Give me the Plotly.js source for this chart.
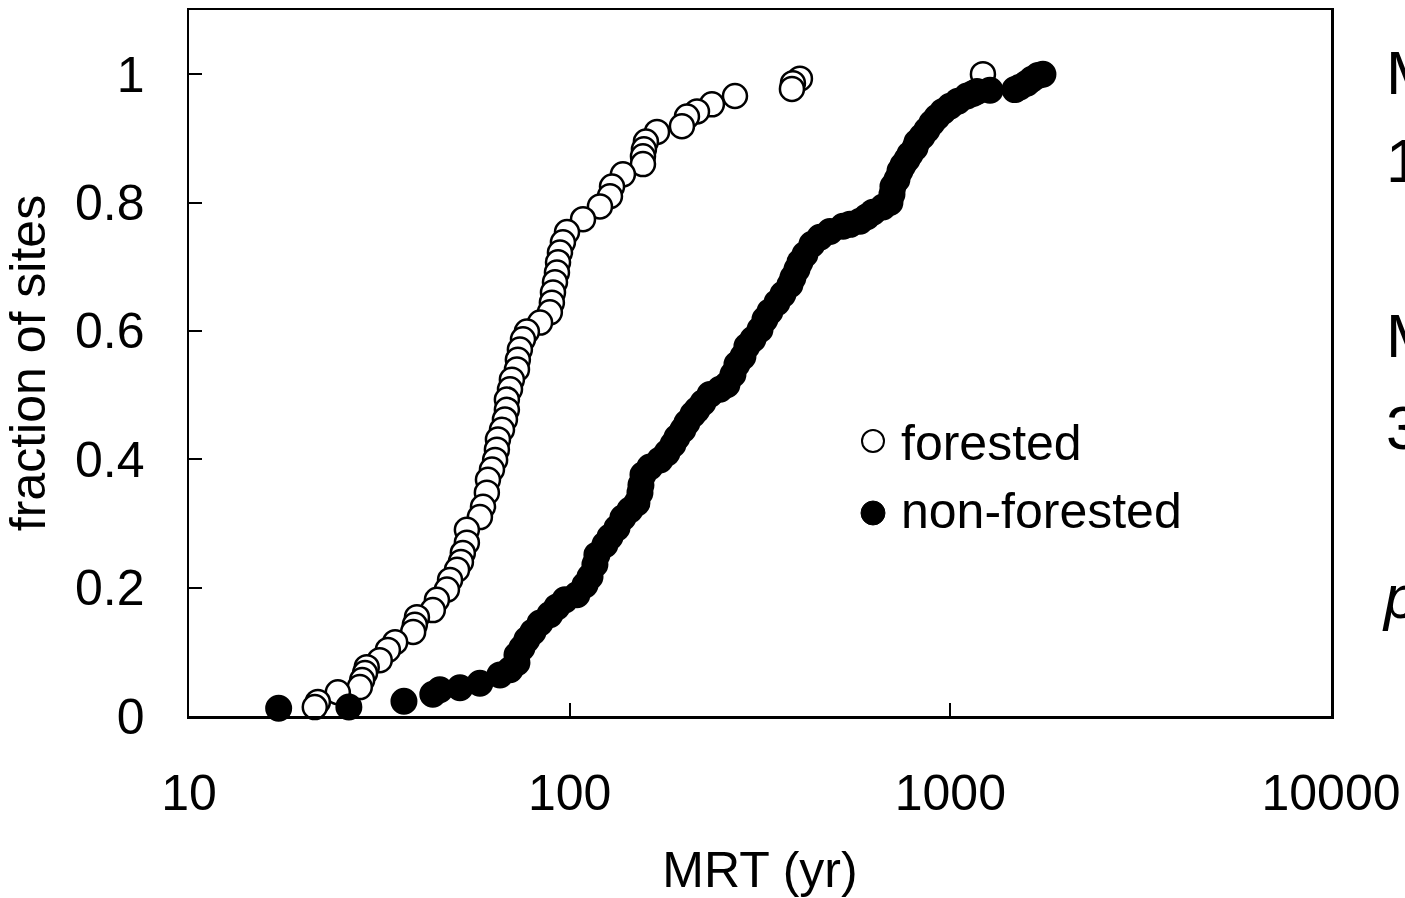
<!DOCTYPE html>
<html>
<head>
<meta charset="utf-8">
<script src="https://cdn.plot.ly/plotly-3.0.1.min.js"></script>
<style>html,body{margin:0;padding:0;background:#fff;}#chart{width:1405px;height:898px;}</style>
</head>
<body>
<div id="chart"></div>
<script>
// MRT (yr) values and cumulative fraction of sites
const forestedMRT = [21.4, 21.8, 24.6, 28.1, 28.5, 29.0, 29.3, 31.7, 33.3, 34.8,
  38.8, 39.2, 39.7, 43.7, 44.8, 47.6, 48.5, 50.6, 51.8, 52.4,
  53.7, 53.7, 58.1, 59.2, 60.6, 61.0, 62.5, 63.7, 64.4, 64.8,
  66.4, 67.6, 68.4, 68.4, 69.7, 70.5, 72.7, 73.1, 74.0, 75.4,
  77.2, 83.6, 88.7, 89.8, 90.4, 91.5, 92.6, 93.2, 94.3, 96.0,
  98.4, 108.4, 120.1, 127.6, 129.2, 138.0, 155.8, 155.8, 156.7, 158.6,
  169.6, 197.2, 203.3, 216.0, 236.4, 271.8, 383.6, 385.9, 402.6, 1218];
const forestedFrac = [0.014, 0.022, 0.037, 0.045, 0.056, 0.067, 0.076, 0.087, 0.103, 0.115,
  0.131, 0.142, 0.154, 0.165, 0.181, 0.197, 0.212, 0.228, 0.240, 0.254,
  0.270, 0.290, 0.310, 0.326, 0.348, 0.368, 0.384, 0.399, 0.415, 0.431,
  0.446, 0.462, 0.477, 0.493, 0.509, 0.524, 0.540, 0.555, 0.571, 0.587,
  0.599, 0.613, 0.629, 0.644, 0.660, 0.676, 0.691, 0.707, 0.722, 0.738,
  0.754, 0.774, 0.794, 0.810, 0.825, 0.844, 0.860, 0.872, 0.883, 0.895,
  0.910, 0.919, 0.934, 0.942, 0.953, 0.966, 0.977, 0.986, 0.993, 1.0];

const nonForestedMRT = [17.2, 26.3, 36.7, 43.7, 45.6, 51.5, 58.1, 65.6, 69.7, 72.7,
  72.7, 74.9, 77.2, 80.1, 83.6, 88.7, 92.6, 97.2, 104.5, 109.7,
  113.1, 116.5, 117.9, 123.8, 127.6, 133.1, 138.0, 144.0, 150.2, 153.0,
  153.9, 155.8, 162.5, 172.7, 180.2, 186.8, 191.3, 198.4, 203.3, 210.8,
  216.0, 223.9, 233.6, 248.2, 258.9, 268.5, 275.1, 285.2, 292.2, 303.0,
  316.2, 325.9, 335.8, 350.4, 363.3, 379.1, 385.9, 395.5, 402.6, 415.0,
  433.0, 454.5, 482.8, 522.5, 545.0, 578.8, 603.9, 626.3, 665.3, 694.0,
  702.5, 706.7, 724.0, 737.3, 750.8, 769.1, 783.2, 807.2, 817.0, 842.2,
  868.0, 894.6, 922.1, 956.3, 997.7, 1047, 1106, 1147, 1175, 1271,
  1478, 1523, 1589, 1638, 1699, 1751];
const nonForestedFrac = [0.012, 0.014, 0.023, 0.034, 0.041, 0.044, 0.051, 0.064, 0.072, 0.083,
  0.095, 0.106, 0.119, 0.131, 0.145, 0.158, 0.170, 0.181, 0.189, 0.204,
  0.217, 0.236, 0.251, 0.267, 0.279, 0.293, 0.309, 0.321, 0.332, 0.348,
  0.360, 0.376, 0.388, 0.399, 0.410, 0.423, 0.434, 0.446, 0.457, 0.470,
  0.477, 0.488, 0.501, 0.509, 0.516, 0.532, 0.548, 0.560, 0.576, 0.587,
  0.602, 0.618, 0.630, 0.644, 0.657, 0.672, 0.683, 0.696, 0.707, 0.719,
  0.735, 0.746, 0.755, 0.763, 0.766, 0.771, 0.778, 0.785, 0.793, 0.800,
  0.813, 0.825, 0.836, 0.849, 0.858, 0.867, 0.875, 0.885, 0.894, 0.903,
  0.913, 0.924, 0.933, 0.942, 0.950, 0.958, 0.966, 0.970, 0.973, 0.975,
  0.976, 0.980, 0.986, 0.992, 0.998, 1.0];

const xTickVals = [10, 100, 1000, 10000];
const xTickText = ['10', '100', '1000', '10000'];
const yTickVals = [0, 0.2, 0.4, 0.6, 0.8, 1];
const yTickText = ['0', '0.2', '0.4', '0.6', '0.8', '1'];
const seriesNames = ['forested', 'non-forested'];
const sideTexts = ['M', '1', 'M', '3', 'p'];

const FONT = 'Liberation Sans, Arial, Helvetica, sans-serif';
const FS = 50;

const traces = [
  {
    type: 'scatter', mode: 'markers', name: seriesNames[0],
    x: forestedMRT.slice().reverse(), y: forestedFrac.slice().reverse(),
    marker: {symbol: 'circle', size: 24, color: '#ffffff', line: {color: '#000000', width: 2.5}},
    cliponaxis: false, showlegend: false, hoverinfo: 'x+y'
  },
  {
    type: 'scatter', mode: 'markers', name: seriesNames[1],
    x: nonForestedMRT, y: nonForestedFrac,
    marker: {symbol: 'circle', size: 25, color: '#000000', line: {color: '#000000', width: 2}},
    cliponaxis: false, showlegend: false, hoverinfo: 'x+y'
  }
];

// plot area in pixels: x 189..1331, y 10..716
const PL = 189, PR = 1331, PT = 10, PB = 716;
const px = v => (v - PL) / (PR - PL);
const py = v => (PB - v) / (PB - PT);

const annotations = [
  {text: seriesNames[0], xref: 'paper', yref: 'paper', x: px(899), y: py(443), xanchor: 'left', yanchor: 'middle', showarrow: false, font: {family: FONT, size: FS, color: '#000'}},
  {text: seriesNames[1], xref: 'paper', yref: 'paper', x: px(899), y: py(511), xanchor: 'left', yanchor: 'middle', showarrow: false, font: {family: FONT, size: FS, color: '#000'}},
  {text: sideTexts[0], xref: 'paper', yref: 'paper', x: px(1384), y: py(72), xanchor: 'left', yanchor: 'middle', showarrow: false, font: {family: FONT, size: 62, color: '#000'}},
  {text: sideTexts[1], xref: 'paper', yref: 'paper', x: px(1384), y: py(161), xanchor: 'left', yanchor: 'middle', showarrow: false, font: {family: FONT, size: 62, color: '#000'}},
  {text: sideTexts[2], xref: 'paper', yref: 'paper', x: px(1384), y: py(335), xanchor: 'left', yanchor: 'middle', showarrow: false, font: {family: FONT, size: 62, color: '#000'}},
  {text: sideTexts[3], xref: 'paper', yref: 'paper', x: px(1384), y: py(427), xanchor: 'left', yanchor: 'middle', showarrow: false, font: {family: FONT, size: 62, color: '#000'}},
  {text: '<i>' + sideTexts[4] + '</i>', xref: 'paper', yref: 'paper', x: px(1380), y: py(596), xanchor: 'left', yanchor: 'middle', showarrow: false, font: {family: FONT, size: 62, color: '#000'}}
];

const shapes = [
  {type: 'circle', xref: 'paper', yref: 'paper', xsizemode: 'pixel', ysizemode: 'pixel',
   xanchor: px(873), yanchor: py(441), x0: -11, x1: 11, y0: -11, y1: 11,
   fillcolor: '#ffffff', line: {color: '#000', width: 2}},
  {type: 'circle', xref: 'paper', yref: 'paper', xsizemode: 'pixel', ysizemode: 'pixel',
   xanchor: px(873), yanchor: py(513), x0: -12, x1: 12, y0: -12, y1: 12,
   fillcolor: '#000000', line: {color: '#000', width: 1}}
];

const layout = {
  width: 1405, height: 898,
  margin: {l: 189, r: 74, t: 10, b: 182, pad: 0},
  paper_bgcolor: '#ffffff', plot_bgcolor: '#ffffff',
  font: {family: FONT, color: '#000'},
  showlegend: false,
  xaxis: {
    type: 'log', range: [1, 4],
    tickmode: 'array', tickvals: xTickVals, ticktext: xTickText,
    ticks: 'inside', ticklen: 13, tickwidth: 2, tickcolor: '#000',
    showline: true, mirror: true, linewidth: 2.5, linecolor: '#000',
    showgrid: false, zeroline: false,
    tickfont: {family: FONT, size: FS, color: '#000'},
    ticklabelstandoff: 31,
    title: {text: 'MRT (yr)', font: {family: FONT, size: FS, color: '#000'}, standoff: 44}
  },
  yaxis: {
    range: [0, 1.1],
    tickmode: 'array', tickvals: yTickVals, ticktext: yTickText,
    ticks: 'inside', ticklen: 13, tickwidth: 2, tickcolor: '#000',
    showline: true, mirror: true, linewidth: 2.5, linecolor: '#000',
    showgrid: false, zeroline: false,
    tickfont: {family: FONT, size: FS, color: '#000'},
    ticklabelstandoff: 32,
    title: {text: 'fraction of sites', font: {family: FONT, size: FS, color: '#000'}, standoff: 40}
  },
  annotations: annotations,
  shapes: shapes
};

Plotly.newPlot('chart', traces, layout, {staticPlot: true, displayModeBar: false});
</script>
</body>
</html>
